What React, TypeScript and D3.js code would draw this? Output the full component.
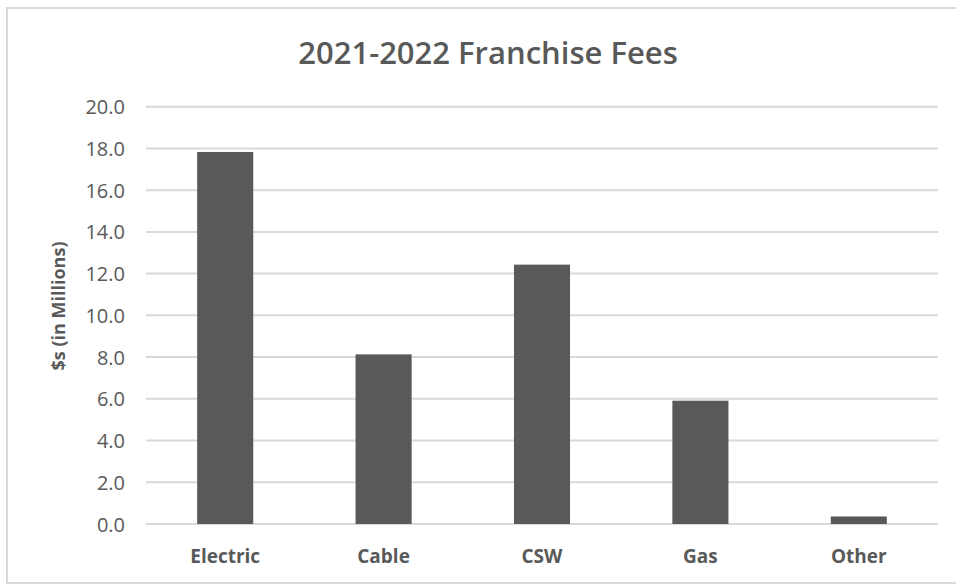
import React from "react";
import * as d3 from "d3";

const categories = ["Electric", "Cable", "CSW", "Gas", "Other"];
const values = [17.83, 8.13, 12.43, 5.91, 0.36];
const yTicks = [0, 2, 4, 6, 8, 10, 12, 14, 16, 18, 20];
const title = "2021-2022 Franchise Fees";
const yLabel = "$s (in Millions)";

const W = 956;
const H = 585;
const FONT = "'Open Sans', 'Noto Sans', sans-serif";
const TEXT = "#595959";

export default function App() {
  const x = d3.scaleBand<string>().domain(categories).range([146, 938]).padding(0);
  const y = d3.scaleLinear().domain([0, 20]).range([524, 106.7]);
  const barW = x.bandwidth() * 0.354;
  const fmt = d3.format(".1f");

  return (
    <svg
      width={W}
      height={H}
      style={{ position: "fixed", left: 0, top: 0, background: "#fff" }}
      fontFamily={FONT}
    >
      <rect x={0} y={0} width={W} height={H} fill="#fff" />
      <rect x={7} y={8} width={W + 10} height={575} fill="none" stroke="#d9d9d9" strokeWidth={2} />
      <text x={488} y={64} textAnchor="middle" fontSize={31} fontWeight={600} fill={TEXT}>
        {title}
      </text>
      {yTicks.map((t) => (
        <g key={t}>
          <line x1={146} x2={938} y1={y(t)} y2={y(t)} stroke="#d9d9d9" strokeWidth={2} />
          <text
            x={125}
            y={y(t)}
            textAnchor="end"
            dominantBaseline="central"
            fontSize={20}
            fill={TEXT}
          >
            {fmt(t)}
          </text>
        </g>
      ))}
      {categories.map((c, i) => (
        <g key={c}>
          <rect
            x={(x(c) as number) + x.bandwidth() / 2 - barW / 2}
            y={y(values[i])}
            width={barW}
            height={y(0) - y(values[i])}
            fill="#595959"
          />
          <text
            x={(x(c) as number) + x.bandwidth() / 2}
            y={563}
            textAnchor="middle"
            fontSize={19}
            fontWeight="bold"
            fill={TEXT}
          >
            {c}
          </text>
        </g>
      ))}
      <text
        transform={`translate(58,306) rotate(-90)`}
        textAnchor="middle"
        dominantBaseline="central"
        fontSize={18}
        fontWeight="bold"
        fill={TEXT}
      >
        {yLabel}
      </text>
    </svg>
  );
}
